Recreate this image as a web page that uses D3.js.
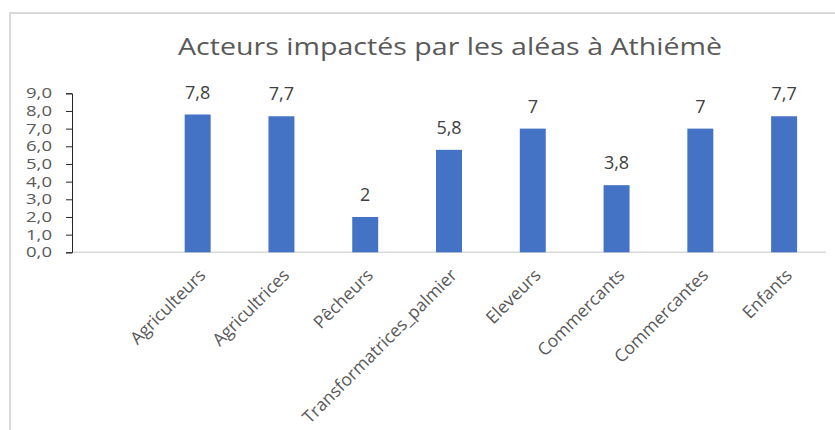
<!DOCTYPE html>
<html>
<head>
<meta charset="utf-8">
<script src="https://cdn.jsdelivr.net/npm/d3@7"></script>
<style>
  body { margin: 0; background: #fff; }
  svg { display: block; }
</style>
</head>
<body>
<script>
// chart values
let categories = ["", "Agriculteurs", "Agricultrices", "Pêcheurs", "Transformatrices_palmier", "Eleveurs", "Commercants", "Commercantes", "Enfants"];
let values = [null, 7.8, 7.7, 2, 5.8, 7, 3.8, 7, 7.7];
let yTicks = [0, 1, 2, 3, 4, 5, 6, 7, 8, 9];
let title = "Acteurs impactés par les aléas à Athiémè";

let font = "Open Sans, sans-serif";

let svg = d3.select("body").append("svg")
	.attr("width", 835)
	.attr("height", 430);

let width = +svg.attr("width");
let height = +svg.attr("height");

//outer frame of the chart area (only top & left edges are in the picture)
svg.append("line")
	.attr("x1", 10).attr("y1", 13)
	.attr("x2", width).attr("y2", 13)
	.attr("stroke", "#d9d9d9")
	.attr("stroke-width", 2);
svg.append("line")
	.attr("x1", 10).attr("y1", 12)
	.attr("x2", 10).attr("y2", height)
	.attr("stroke", "#d9d9d9")
	.attr("stroke-width", 2);

let margin = { top: 93.3, right: 9, bottom: 177.7, left: 72 };
let innerWidth = width - margin.left - margin.right;
let innerHeight = height - margin.top - margin.bottom;

let data = categories.map((c, i) => ({ cat: c, value: values[i] }));

let scaleX = d3.scaleBand()
	.domain(categories)
	.range([0, innerWidth])
	.paddingInner(0.69)
	.paddingOuter(0.345);

let scaleY = d3.scaleLinear()
	.domain([0, 9])
	.range([innerHeight, 0]);

let comma = s => s.replace(".", ",");

let g = svg.append("g")
	.attr("transform", `translate(${margin.left}, ${margin.top})`);

//title
svg.append("text")
	.attr("x", 450)
	.attr("y", 55)
	.attr("text-anchor", "middle")
	.attr("font-family", font)
	.attr("font-size", 23)
	.attr("fill", "#595959")
	.attr("textLength", 544)
	.attr("lengthAdjust", "spacingAndGlyphs")
	.text(title);

//baseline at zero
g.append("line")
	.attr("x1", 0)
	.attr("x2", innerWidth)
	.attr("y1", scaleY(0))
	.attr("y2", scaleY(0))
	.attr("stroke", "#d9d9d9")
	.attr("stroke-width", 1.5);

//y axis
let yAxis = d3.axisLeft(scaleY)
	.tickValues(yTicks)
	.tickSize(6)
	.tickPadding(14)
	.tickFormat(d => comma(d3.format(".1f")(d)));

let yG = g.append("g").call(yAxis);
yG.select(".domain").attr("stroke", "#262626");
yG.selectAll(".tick line").attr("stroke", "#262626");
yG.selectAll(".tick text")
	.attr("font-size", 14)
	.attr("font-family", font)
	.attr("fill", "#595959")
	.attr("textLength", 26)
	.attr("lengthAdjust", "spacingAndGlyphs");

//bars
let bars = data.filter(d => d.value != null);

g.selectAll("rect.bar")
	.data(bars)
	.enter().append("rect")
		.attr("class", "bar")
		.attr("x", d => scaleX(d.cat))
		.attr("width", scaleX.bandwidth())
		.attr("y", d => scaleY(d.value))
		.attr("height", d => scaleY(0) - scaleY(d.value))
		.attr("fill", "#4472c4");

//value labels
g.selectAll("text.val")
	.data(bars)
	.enter().append("text")
		.attr("class", "val")
		.attr("x", d => scaleX(d.cat) + scaleX.bandwidth() / 2)
		.attr("y", d => scaleY(d.value) - 16)
		.attr("text-anchor", "middle")
		.attr("font-family", font)
		.attr("font-size", 18)
		.attr("fill", "#404040")
		.text(d => comma(String(d.value)));

//category labels, rotated
g.selectAll("text.cat")
	.data(bars)
	.enter().append("text")
		.attr("class", "cat")
		.attr("text-anchor", "end")
		.attr("font-family", font)
		.attr("font-size", 17.5)
		.attr("fill", "#595959")
		.attr("transform", d => `translate(${scaleX(d.cat) + scaleX.bandwidth() / 2 + 9}, ${innerHeight + 24}) rotate(-45)`)
		.text(d => d.cat);
</script>
</body>
</html>
